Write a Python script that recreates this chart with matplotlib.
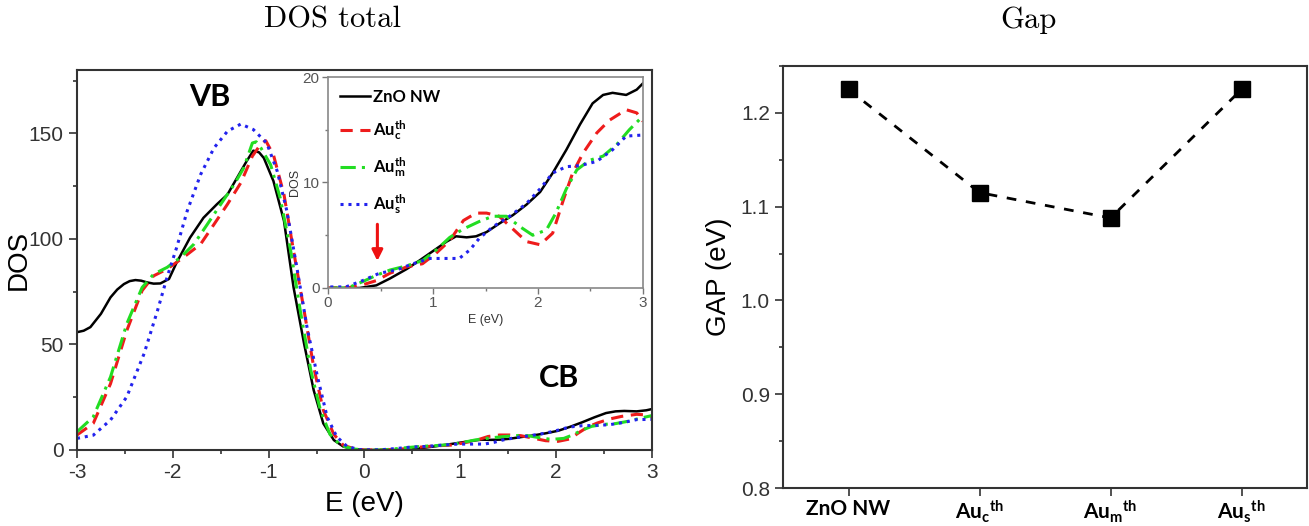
import matplotlib
matplotlib.use("Agg")
import matplotlib.pyplot as plt
from matplotlib.ticker import MultipleLocator, FormatStrFormatter

plt.rcParams["font.family"] = ["Liberation Sans", "DejaVu Sans"]
plt.rcParams["axes.unicode_minus"] = False
plt.rcParams["mathtext.fontset"] = "custom"
plt.rcParams["mathtext.rm"] = "Lato"
plt.rcParams["mathtext.bf"] = "Lato:bold"
plt.rcParams["mathtext.it"] = "Lato:italic"

# ---- density of states (energy in eV, DOS in states) ----
e_zno = [-3.0, -2.93, -2.86, -2.75, -2.65, -2.58, -2.51, -2.45, -2.39, -2.33, -2.27, -2.2,
         -2.13, -2.04, -1.96, -1.82, -1.68, -1.54, -1.43, -1.33, -1.23, -1.16, -1.10, -1.05,
         -0.95, -0.84, -0.74, -0.63, -0.53, -0.43, -0.32, -0.22, -0.11, 0.0, 0.3, 0.46, 0.59,
         0.75, 0.87, 1.0, 1.13, 1.22, 1.32, 1.41, 1.51, 1.63, 1.76, 1.89, 2.02, 2.14, 2.27,
         2.40, 2.52, 2.62, 2.71, 2.84, 2.94, 3.0]
dos_zno = [55.8, 56.5, 58.2, 64.5, 72.3, 76.0, 78.6, 80.0, 80.5, 80.2, 79.4, 78.8,
           78.9, 81.0, 88.8, 100.6, 110.0, 116.4, 121.0, 128.9, 136.8, 141.8, 141.0, 138.3,
           127.4, 108.5, 77.0, 50.3, 28.3, 12.6, 4.7, 1.6, 0.4, 0.0, 0.0, 0.25, 0.9,
           1.8, 2.6, 3.5, 4.4, 4.9, 4.8, 4.9, 5.3, 6.1, 6.9, 7.9, 9.1, 10.9, 13.1,
           15.5, 17.5, 18.3, 18.5, 18.3, 18.8, 19.4]

e_auc = [-3.0, -2.83, -2.65, -2.48, -2.32, -2.2, -2.06, -1.89, -1.71, -1.57, -1.43, -1.29,
         -1.17, -1.08, -1.03, -0.95, -0.84, -0.74, -0.63, -0.53, -0.43, -0.32, -0.22, -0.1,
         0.0, 0.21, 0.33, 0.46, 0.59, 0.75, 0.9, 1.03, 1.16, 1.29, 1.41, 1.51, 1.63, 1.76,
         1.89, 2.02, 2.14, 2.24, 2.33, 2.43, 2.56, 2.68, 2.84, 2.94, 3.0]
dos_auc = [7.1, 12.6, 31.4, 56.6, 75.5, 82.5, 85.7, 91.2, 97.5, 106.9, 116.4, 126.6,
           139.2, 145.0, 146.5, 139.8, 121.0, 94.3, 66.0, 39.3, 18.9, 7.4, 2.2, 0.5,
           0.0, 0.05, 0.3, 0.7, 1.4, 2.0, 2.3, 3.3, 4.5, 6.4, 7.1, 7.1, 6.8, 5.6,
           4.4, 4.1, 5.2, 8.3, 10.9, 12.8, 14.7, 15.9, 16.9, 16.6, 15.8]

e_aum = [-3.0, -2.83, -2.65, -2.48, -2.32, -2.2, -2.06, -1.92, -1.78, -1.64, -1.5, -1.36,
         -1.26, -1.17, -1.13, -1.08, -0.98, -0.88, -0.77, -0.67, -0.56, -0.46, -0.36, -0.25,
         -0.12, 0.0, 0.15, 0.21, 0.33, 0.46, 0.59, 0.75, 0.9, 1.03, 1.16, 1.29, 1.44, 1.57,
         1.7, 1.83, 1.95, 2.08, 2.17, 2.27, 2.37, 2.49, 2.62, 2.75, 2.87, 3.0]
dos_aum = [8.6, 15.7, 34.6, 59.8, 77.0, 83.3, 86.5, 91.2, 97.5, 106.9, 116.4, 125.8,
           133.6, 145.4, 146.0, 143.0, 135.2, 119.5, 94.3, 66.0, 37.7, 18.9, 7.4, 2.2,
           0.5, 0.0, 0.0, 0.1, 0.6, 1.2, 1.7, 2.1, 2.6, 3.6, 4.8, 5.6, 6.3, 6.8,
           6.8, 5.8, 5.0, 5.5, 7.1, 9.4, 11.2, 12.1, 12.5, 13.6, 15.0, 16.3]

e_aus = [-3.0, -2.83, -2.65, -2.48, -2.3, -2.16, -2.06, -1.96, -1.85, -1.71, -1.57, -1.43,
         -1.29, -1.16, -1.02, -0.91, -0.81, -0.7, -0.6, -0.49, -0.39, -0.29, -0.18, -0.05,
         0.0, 0.17, 0.33, 0.49, 0.65, 0.81, 0.97, 1.13, 1.25, 1.35, 1.44, 1.57, 1.73, 1.89,
         2.02, 2.14, 2.27, 2.4, 2.56, 2.71, 2.84, 3.0]
dos_aus = [5.5, 7.0, 14.2, 25.2, 45.6, 66.0, 81.8, 95.9, 113.2, 130.5, 143.1, 151.0,
           154.4, 151.8, 145.4, 132.0, 113.2, 84.9, 58.2, 34.6, 15.7, 6.3, 1.6, 0.2,
           0.1, 0.1, 0.7, 1.4, 1.7, 2.3, 2.8, 2.8, 2.8, 3.6, 4.7, 5.8, 6.8, 8.0,
           9.4, 10.9, 11.5, 11.6, 12.0, 13.1, 14.4, 14.5]

# ---- band gap per configuration ----
gap_labels = ["ZnO NW", r"$\mathbf{Au_c{}^{th}}$", r"$\mathbf{Au_m{}^{th}}$", r"$\mathbf{Au_s{}^{th}}$"]
gap_values = [1.225, 1.115, 1.088, 1.225]

series = [
    (e_zno, dos_zno, "ZnO NW", dict(color="black", lw=1.8, ls="-")),
    (e_auc, dos_auc, r"$\mathbf{Au_c^{th}}$", dict(color="#ee1c1c", lw=2.2, ls=(0, (4, 2.5)))),
    (e_aum, dos_aum, r"$\mathbf{Au_m^{th}}$", dict(color="#22dd22", lw=2.2, ls=(0, (5, 2, 1, 2)))),
    (e_aus, dos_aus, r"$\mathbf{Au_s^{th}}$", dict(color="#2222ee", lw=2.2, ls=(0, (1, 1.6)))),
]

spine_c = "#333333"
fig = plt.figure(figsize=(13.09, 5.26), dpi=100)

# ---------------- total DOS ----------------
ax = fig.add_axes([0.0588, 0.1445, 0.4393, 0.7224])
for e, d, lab, st in series:
    ax.plot(e, d, label=lab, **st)
ax.set_xlim(-3, 3)
ax.set_ylim(0, 180)
ax.xaxis.set_major_locator(MultipleLocator(1))
ax.xaxis.set_minor_locator(MultipleLocator(0.5))
ax.yaxis.set_major_locator(MultipleLocator(50))
ax.yaxis.set_minor_locator(MultipleLocator(25))
ax.tick_params(which="both", direction="out", color=spine_c, width=1.2, labelcolor="#333333")
ax.tick_params(which="major", length=6, labelsize=15)
ax.tick_params(which="minor", length=3)
for s in ax.spines.values():
    s.set_color(spine_c)
    s.set_linewidth(1.5)
ax.set_xlabel("E (eV)", fontsize=20, labelpad=6)
ax.set_ylabel("DOS", fontsize=20)
ax.yaxis.set_label_coords(-0.079, 0.5)
ax.text(0.231, 0.929, "VB", transform=ax.transAxes, ha="center", va="center",
        fontsize=22, fontweight="bold", family="Lato")
ax.text(0.838, 0.189, "CB", transform=ax.transAxes, ha="center", va="center",
        fontsize=22, fontweight="bold", family="Lato")

# ---------------- conduction-band inset ----------------
axi = fig.add_axes([0.2506, 0.4525, 0.2406, 0.4011])
for e, d, lab, st in series:
    axi.plot(e, d, label=lab, **st)
axi.set_xlim(0, 3)
axi.set_ylim(0, 20)
axi.xaxis.set_major_locator(MultipleLocator(1))
axi.xaxis.set_minor_locator(MultipleLocator(0.5))
axi.yaxis.set_major_locator(MultipleLocator(10))
axi.yaxis.set_minor_locator(MultipleLocator(5))
axi.tick_params(which="both", direction="out", color="#777777", width=1, labelcolor="#555555")
axi.tick_params(which="major", length=4, labelsize=11, pad=2)
axi.tick_params(which="minor", length=2)
for s in axi.spines.values():
    s.set_color("#888888")
    s.set_linewidth(1.2)
axi.set_xlabel("E (eV)", fontsize=9, labelpad=3, color="#333333")
axi.set_ylabel("DOS", fontsize=9, labelpad=1, color="#333333")
axi.annotate("", xy=(0.47, 2.3), xytext=(0.47, 6.3),
             arrowprops=dict(arrowstyle="-|>", color="#ee1111", lw=2.2, mutation_scale=16))
axi.legend(loc="upper left", bbox_to_anchor=(0.0, 1.0), frameon=False,
           handlelength=1.8, handletextpad=0.2, labelspacing=0.8, borderaxespad=0.3,
           prop=dict(family="Lato", weight="bold", size=12))

# ---------------- band gap ----------------
ax2 = fig.add_axes([0.5982, 0.0722, 0.4003, 0.8023])
xpos = range(len(gap_values))
ax2.plot(xpos, gap_values, color="black", lw=2, ls=(0, (3.5, 3.5)),
         marker="s", ms=11, mfc="black", mec="black")
ax2.set_xlim(-0.5, 3.5)
ax2.set_ylim(0.8, 1.25)
ax2.set_xticks(list(xpos))
ax2.set_xticklabels(gap_labels, fontsize=14, fontweight="bold", family="Lato")
ax2.yaxis.set_major_locator(MultipleLocator(0.1))
ax2.yaxis.set_minor_locator(MultipleLocator(0.05))
ax2.yaxis.set_major_formatter(FormatStrFormatter("%.1f"))
ax2.tick_params(which="both", direction="out", color=spine_c, width=1.2, labelcolor="#333333")
ax2.tick_params(which="major", length=6, labelsize=15)
ax2.tick_params(axis="x", labelcolor="black", pad=2)
ax2.tick_params(which="minor", length=3)
for s in ax2.spines.values():
    s.set_color(spine_c)
    s.set_linewidth(1.5)
ax2.set_ylabel("GAP (eV)", fontsize=20)
ax2.yaxis.set_label_coords(-0.098, 0.5)

# ---------------- titles ----------------
fig.text(333 / 1309, 1 - 20 / 526, "DOS total", family="cmr10", fontsize=22,
         ha="center", va="center")
fig.text(1028 / 1309, 1 - 20 / 526, "Gap", family="cmr10", fontsize=22,
         ha="center", va="center")

fig.savefig("out.png", dpi=100)
